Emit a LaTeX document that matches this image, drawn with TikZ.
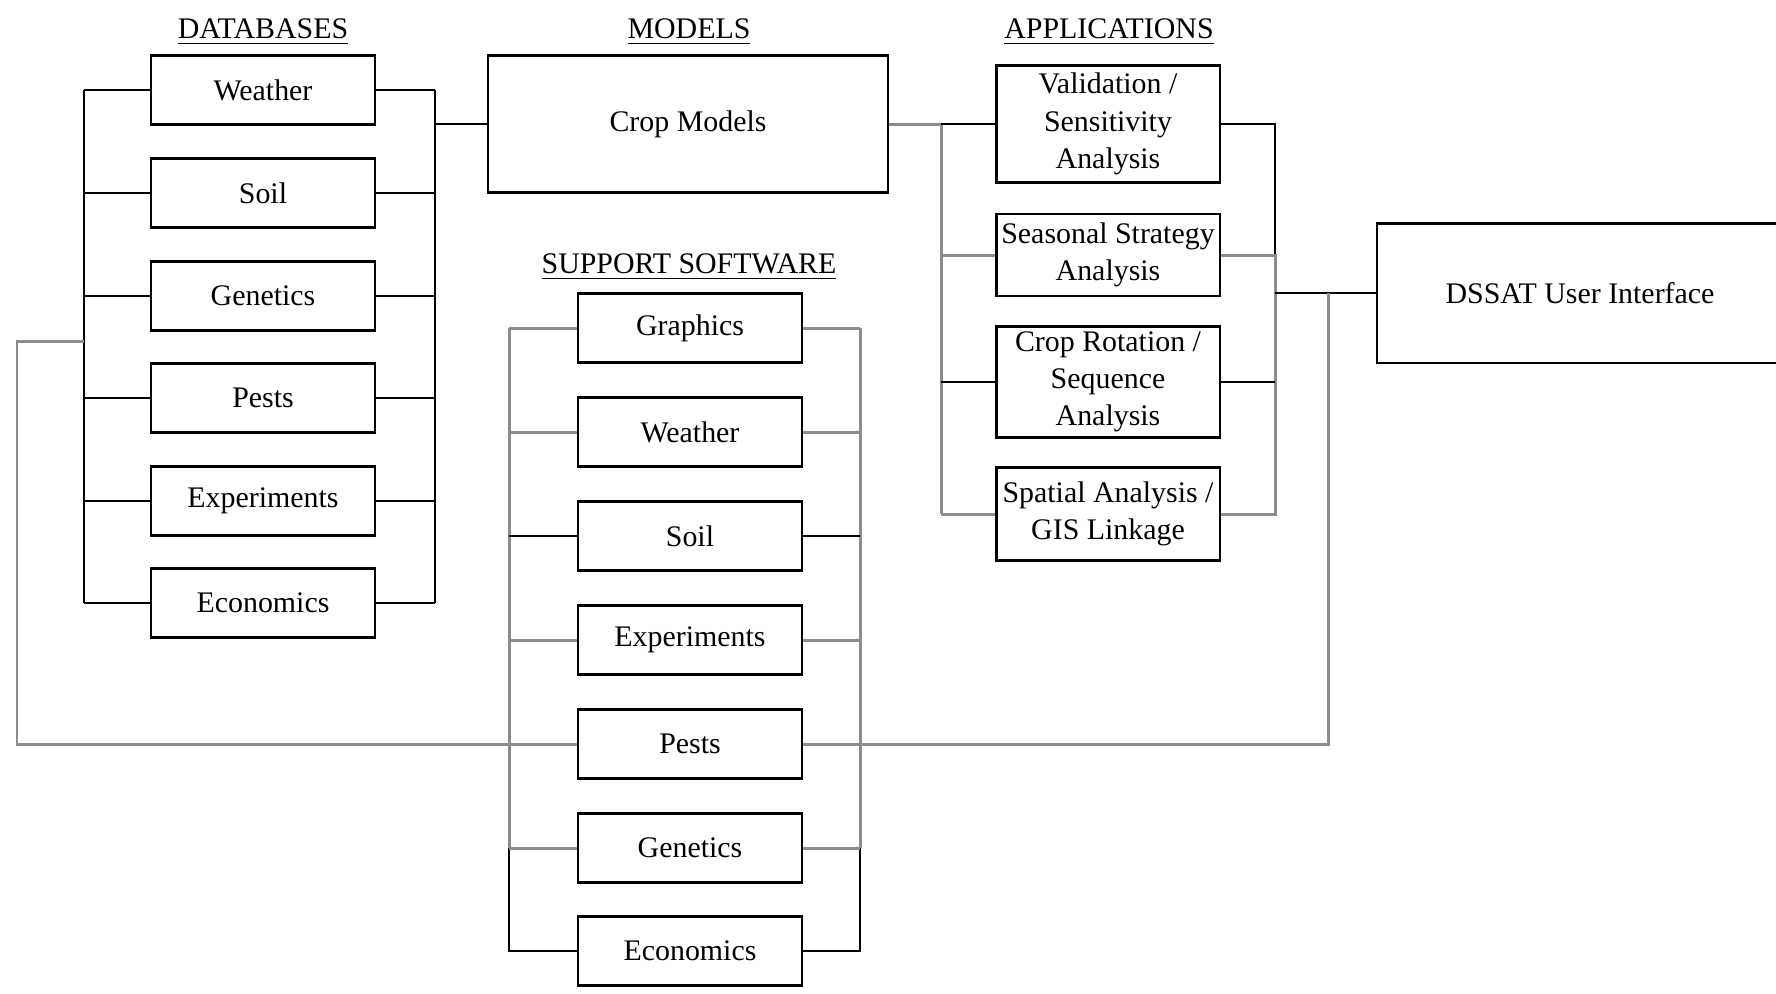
\documentclass[tikz,border=0pt]{standalone}
\usepackage{fontspec}
\setmainfont{Liberation Serif}
\usepackage{tikz}

\tikzset{
    box/.style={draw, line width=0.6pt, inner sep=1pt, align=center,
        minimum width=2.23cm, minimum height=0.69cm},
    head/.style={anchor=base, inner sep=0pt},
    wire/.style={line width=0.5pt, black},
    greywire/.style={line width=0.85pt, black!45}
}

\begin{document}
\begin{tikzpicture}[x=0.01cm, y=-0.01cm, font=\fontsize{8.5}{10.6}\selectfont]
    \useasboundingbox (0,0) rectangle (1776,993);

    \node[head] (dbhead) at (263,38) {\underline{DATABASES}};
    \node[head] (mhead) at (689,38) {\underline{MODELS}};
    \node[head] (aphead) at (1109,38) {\underline{APPLICATIONS}};
    \node[head] (sshead) at (689,273) {\underline{SUPPORT SOFTWARE}};

    \node[box] (dbweather) at (263,90) {Weather};
    \node[box] (dbsoil) at (263,193) {Soil};
    \node[box] (dbgenetics) at (263,296) {Genetics};
    \node[box] (dbpests) at (263,398) {Pests};
    \node[box] (dbexp) at (263,501) {Experiments};
    \node[box] (dbecon) at (263,603) {Economics};

    \node[box, minimum width=3.99cm, minimum height=1.37cm] (crop) at (688,124) {Crop Models};

    \node[box, minimum height=1.17cm] (valid) at (1108,124) {Validation /\\ Sensitivity\\ Analysis};
    \node[box, minimum height=0.82cm] (seasonal) at (1108,255) {Seasonal Strategy\\ Analysis};
    \node[box, minimum height=1.11cm] (rotation) at (1108,382) {Crop Rotation /\\ Sequence\\ Analysis};
    \node[box, minimum height=0.93cm] (spatial) at (1108,514) {Spatial Analysis /\\ GIS Linkage};

    \node[box, minimum width=4.05cm, minimum height=1.39cm] (dssat) at (1580,293) {DSSAT User Interface};

    \node[box] (ssgraphics) at (690,328) {Graphics};
    \node[box] (ssweather) at (690,432) {Weather};
    \node[box] (sssoil) at (690,536) {Soil};
    \node[box] (ssexp) at (690,640) {Experiments};
    \node[box] (sspests) at (690,744) {Pests};
    \node[box] (ssgenetics) at (690,848) {Genetics};
    \node[box] (ssecon) at (690,951) {Economics};

    \coordinate (dbl) at (84,0);
    \coordinate (dbr) at (435,0);
    \coordinate (apl) at (941,0);
    \coordinate (apr) at (1275,0);
    \coordinate (ssl) at (509,0);
    \coordinate (ssr) at (860,0);
    \coordinate (loopl) at (17,341);
    \coordinate (loopr) at (1328,744);

    % databases
    \draw[wire] (dbweather.west -| dbl) -- (dbecon.west -| dbl);
    \draw[wire] (dbweather.east -| dbr) -- (dbecon.east -| dbr);
    \draw[wire] (dbweather.west) -- (dbweather.west -| dbl) (dbweather.east) -- (dbweather.east -| dbr);
    \draw[wire] (dbsoil.west) -- (dbsoil.west -| dbl) (dbsoil.east) -- (dbsoil.east -| dbr);
    \draw[wire] (dbgenetics.west) -- (dbgenetics.west -| dbl) (dbgenetics.east) -- (dbgenetics.east -| dbr);
    \draw[wire] (dbpests.west) -- (dbpests.west -| dbl) (dbpests.east) -- (dbpests.east -| dbr);
    \draw[wire] (dbexp.west) -- (dbexp.west -| dbl) (dbexp.east) -- (dbexp.east -| dbr);
    \draw[wire] (dbecon.west) -- (dbecon.west -| dbl) (dbecon.east) -- (dbecon.east -| dbr);
    \draw[wire] (crop.west) -- (crop.west -| dbr);

    % applications
    \draw[greywire] (crop.east) -- (crop.east -| apl);
    \draw[greywire] (valid.west -| apl) -- (spatial.west -| apl);
    \draw[wire] (valid.west) -- (valid.west -| apl);
    \draw[greywire] (seasonal.west) -- (seasonal.west -| apl);
    \draw[wire] (rotation.west) -- (rotation.west -| apl);
    \draw[greywire] (spatial.west) -- (spatial.west -| apl);
    \draw[wire] (valid.east) -- (valid.east -| apr) -- (seasonal.east -| apr);
    \draw[greywire] (seasonal.east) -- (seasonal.east -| apr) -- (spatial.east -| apr) -- (spatial.east);
    \draw[wire] (rotation.east) -- (rotation.east -| apr);
    \draw[wire] (dssat.west) -- (dssat.west -| apr);

    % support software
    \draw[greywire] (ssgraphics.west -| ssl) -- (ssgenetics.west -| ssl);
    \draw[greywire] (ssgraphics.east -| ssr) -- (ssgenetics.east -| ssr);
    \draw[wire] (ssgenetics.west -| ssl) -- (ssecon.west -| ssl) -- (ssecon.west);
    \draw[wire] (ssgenetics.east -| ssr) -- (ssecon.east -| ssr) -- (ssecon.east);
    \draw[greywire] (ssgraphics.west) -- (ssgraphics.west -| ssl) (ssgraphics.east) -- (ssgraphics.east -| ssr);
    \draw[greywire] (ssweather.west) -- (ssweather.west -| ssl) (ssweather.east) -- (ssweather.east -| ssr);
    \draw[wire] (sssoil.west) -- (sssoil.west -| ssl) (sssoil.east) -- (sssoil.east -| ssr);
    \draw[greywire] (ssexp.west) -- (ssexp.west -| ssl) (ssexp.east) -- (ssexp.east -| ssr);
    \draw[greywire] (ssgenetics.west) -- (ssgenetics.west -| ssl) (ssgenetics.east) -- (ssgenetics.east -| ssr);

    % loop through pests
    \draw[greywire] (loopl -| dbl) -- (loopl) |- (sspests.west);
    \draw[greywire] (sspests.east) -- (loopr) -- (loopr |- dssat.west);
\end{tikzpicture}
\end{document}
